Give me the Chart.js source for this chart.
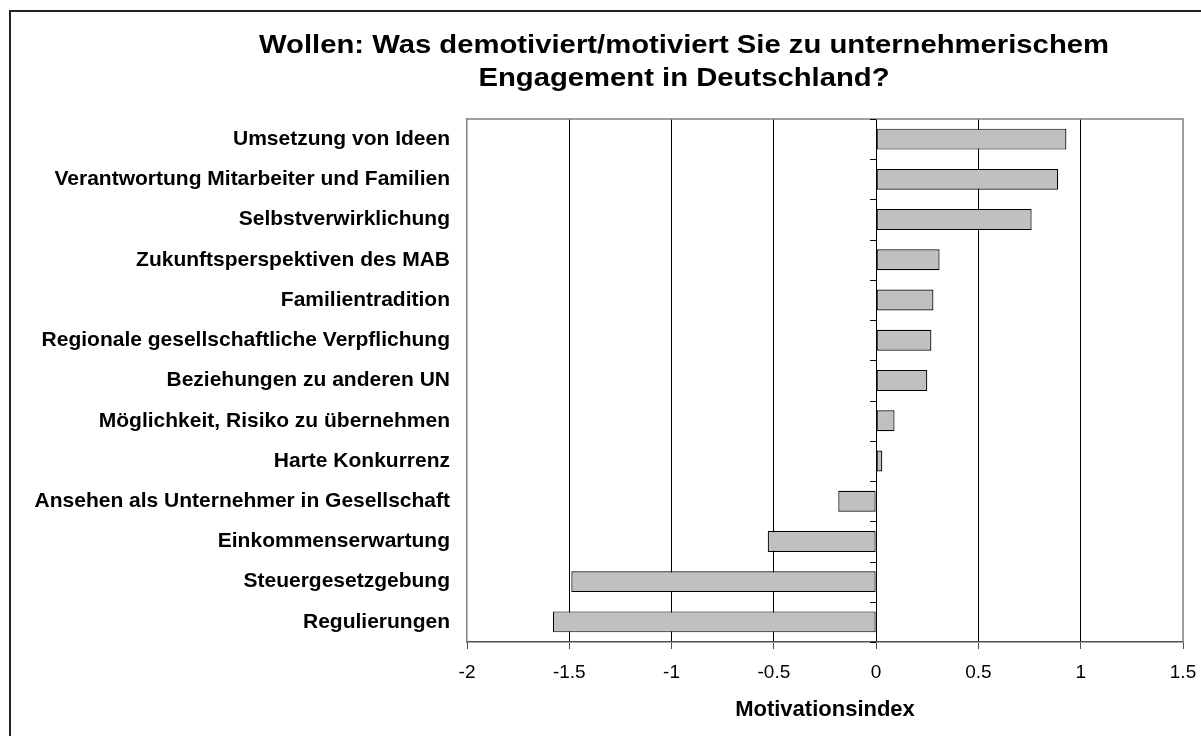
<!DOCTYPE html>
<html>
<head>
<meta charset="utf-8">
<script src="https://cdn.jsdelivr.net/npm/chart.js@4.4.1/dist/chart.umd.min.js"></script>
<style>
  body { margin: 0; background: #fff; }
  .wrap { position: relative; width: 1201px; height: 736px; overflow: hidden; }
  .frame { position: absolute; left: 9px; top: 10px; width: 1300px; height: 800px;
           border-left: 2px solid #222; border-top: 2px solid #222; }
  .title { position: absolute; left: 184px; top: 28px; width: 1000px; text-align: center;
           font: bold 25px "Liberation Sans", Arial, sans-serif; line-height: 33px; color: #000;
           transform: scaleX(1.17); transform-origin: 500px 0; }
  canvas { position: absolute; left: 0; top: 0; }
</style>
</head>
<body>
<div class="wrap">
  <div class="frame"></div>
  <canvas id="chart" width="1201" height="736"></canvas>
  <div class="title">Wollen: Was demotiviert/motiviert Sie zu unternehmerischem<br>Engagement in Deutschland?</div>
</div>
<script>
// data
const categories = [
  "Umsetzung von Ideen",
  "Verantwortung Mitarbeiter und Familien",
  "Selbstverwirklichung",
  "Zukunftsperspektiven des MAB",
  "Familientradition",
  "Regionale gesellschaftliche Verpflichung",
  "Beziehungen zu anderen UN",
  "Möglichkeit, Risiko zu übernehmen",
  "Harte Konkurrenz",
  "Ansehen als Unternehmer in Gesellschaft",
  "Einkommenserwartung",
  "Steuergesetzgebung",
  "Regulierungen"
];
const motivationIndex = [0.93, 0.89, 0.76, 0.31, 0.28, 0.27, 0.25, 0.09, 0.03, -0.185, -0.53, -1.49, -1.58];
const xTicks = [-2, -1.5, -1, -0.5, 0, 0.5, 1, 1.5];
const xTitle = "Motivationsindex";

const FONT = "'Liberation Sans', Arial, sans-serif";

//.....plot frame + little ticks on the zero line
const frameLines = {
  id: "frameLines",
  afterDraw(chart) {
    const ctx = chart.ctx;
    const a = chart.chartArea;
    const x = chart.scales.x, y = chart.scales.y;
    ctx.save();
    ctx.strokeStyle = "#808080";
    ctx.lineWidth = 1.5;
    ctx.beginPath();
    ctx.moveTo(a.left, a.top);
    ctx.lineTo(a.right, a.top);
    ctx.lineTo(a.right, a.bottom);
    ctx.stroke();

    const x0 = x.getPixelForValue(0);
    const step = y.getPixelForValue(1) - y.getPixelForValue(0);
    ctx.strokeStyle = "#000";
    ctx.lineWidth = 1;
    ctx.beginPath();
    for (let i = 0; i <= categories.length; i++) {
      const yy = Math.round(y.getPixelForValue(i) - step / 2) + 0.5;
      ctx.moveTo(x0 - 6, yy);
      ctx.lineTo(x0, yy);
    }
    ctx.stroke();
    ctx.restore();
  }
};

new Chart(document.getElementById("chart"), {
  type: "bar",
  data: {
    labels: categories,
    datasets: [{
      data: motivationIndex,
      backgroundColor: "#c0c0c0",
      borderColor: "#000",
      borderWidth: 1.2,
      borderSkipped: false,
      barPercentage: 0.52,
      categoryPercentage: 1
    }]
  },
  options: {
    indexAxis: "y",
    responsive: false,
    animation: false,
    layout: { padding: { left: 0, right: 18, top: 119, bottom: 0 } },
    plugins: { legend: { display: false }, tooltip: { enabled: false } },
    scales: {
      x: {
        min: -2,
        max: 1.5,
        afterBuildTicks: s => { s.ticks = xTicks.map(v => ({ value: v })); },
        afterFit: s => { s.height = 94; s.paddingLeft = 0; s.paddingRight = 0; },
        ticks: {
          autoSkip: false,
          maxRotation: 0,
          color: "#000",
          padding: 12,
          font: { family: FONT, size: 19 },
          callback: v => String(v)
        },
        grid: {
          color: c => (c.tick && (c.tick.value === -2 || c.tick.value === 1.5)) ? "rgba(0,0,0,0)" : "#000",
          lineWidth: 1,
          tickLength: 7,
          tickColor: "#505050"
        },
        border: { color: "#505050", width: 1.5 },
        title: {
          display: true,
          text: xTitle,
          color: "#000",
          font: { family: FONT, size: 22, weight: "bold" },
          padding: { top: 2, bottom: 13 }
        }
      },
      y: {
        afterFit: s => { s.width = 467; },
        grid: { display: false, drawTicks: false },
        border: { color: "#808080", width: 1.5 },
        ticks: {
          color: "#000",
          padding: 17,
          font: { family: FONT, size: 21, weight: "bold" }
        }
      }
    }
  },
  plugins: [frameLines]
});
</script>
</body>
</html>
